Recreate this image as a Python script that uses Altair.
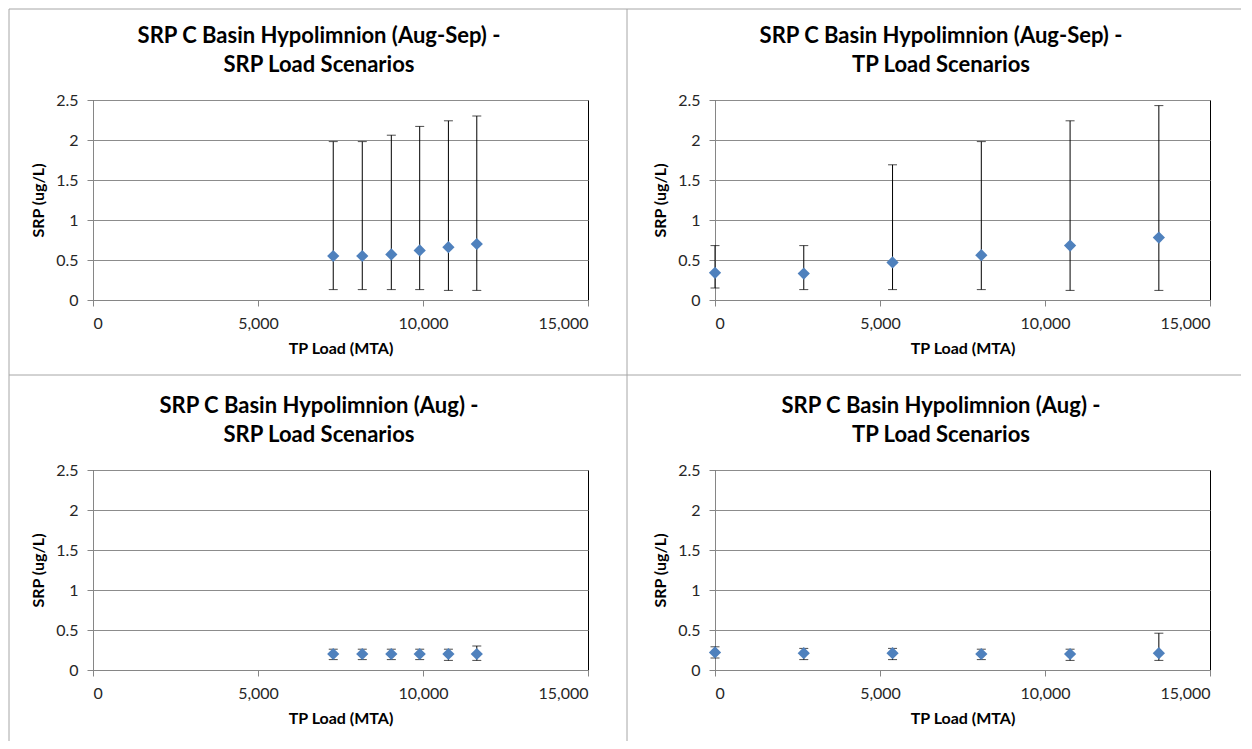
import altair as alt
import pandas as pd

# ---- data ----
srp_loads = [7280, 8160, 9040, 9900, 10770, 11630]
tp_loads = [0, 2690, 5380, 8070, 10760, 13450]

augsep_srp_mean = [0.55, 0.55, 0.57, 0.62, 0.66, 0.70]
augsep_srp_lo = [0.13, 0.13, 0.13, 0.13, 0.12, 0.12]
augsep_srp_hi = [1.98, 1.98, 2.06, 2.17, 2.24, 2.30]

augsep_tp_mean = [0.34, 0.33, 0.47, 0.56, 0.68, 0.78]
augsep_tp_lo = [0.15, 0.13, 0.13, 0.13, 0.12, 0.12]
augsep_tp_hi = [0.68, 0.68, 1.69, 1.98, 2.24, 2.43]

aug_srp_mean = [0.20, 0.20, 0.20, 0.20, 0.20, 0.20]
aug_srp_lo = [0.13, 0.13, 0.13, 0.13, 0.12, 0.12]
aug_srp_hi = [0.26, 0.26, 0.26, 0.26, 0.26, 0.30]

aug_tp_mean = [0.22, 0.21, 0.21, 0.20, 0.20, 0.21]
aug_tp_lo = [0.15, 0.13, 0.13, 0.13, 0.12, 0.12]
aug_tp_hi = [0.29, 0.27, 0.27, 0.26, 0.26, 0.46]

x_ticks = [0, 5000, 10000, 15000]
y_ticks = [0, 0.5, 1, 1.5, 2, 2.5]

titles = [
    ["SRP C Basin Hypolimnion (Aug-Sep) -", "SRP Load Scenarios"],
    ["SRP C Basin Hypolimnion (Aug-Sep) -", "TP Load Scenarios"],
    ["SRP C Basin Hypolimnion (Aug) -", "SRP Load Scenarios"],
    ["SRP C Basin Hypolimnion (Aug) -", "TP Load Scenarios"],
]

FONT = "Lato"
BLUE = "#4F81BD"
W, H = 495, 200
Y_TITLE = "SRP (ug/L)"
X_TITLE = "TP Load (MTA)"


def panel(title, xs, mean, lo, hi, borders=False):
    df = pd.DataFrame({"x": xs, "mean": mean, "lo": lo, "hi": hi})
    base = alt.Chart(df)
    xenc = alt.X(
        "x:Q",
        scale=alt.Scale(domain=[0, 15000], nice=False, zero=False),
        axis=alt.Axis(values=x_ticks, labelExpr="format(datum.value, ',')",
                      title=X_TITLE, grid=False),
        title=X_TITLE,
    )
    yscale = alt.Scale(domain=[0, 2.5], nice=False)
    yaxis = alt.Axis(values=y_ticks, labelExpr="format(datum.value, '~g')",
                     title=Y_TITLE, grid=True)
    bars = base.mark_errorbar(ticks={"size": 9}, color="black", thickness=1).encode(
        x=xenc,
        y=alt.Y("lo:Q", scale=yscale, axis=yaxis, title=Y_TITLE),
        y2="hi:Q",
    )
    pts = base.mark_point(shape="diamond", filled=True, size=150, color=BLUE, opacity=1).encode(
        x=xenc,
        y=alt.Y("mean:Q", scale=yscale, axis=yaxis, title=Y_TITLE),
    )
    one = alt.Data(values=[{}])
    layers = [bars, pts]
    for i, line in enumerate(title):
        layers.append(
            alt.Chart(one).mark_text(
                font=FONT, fontSize=22, fontWeight="bold", color="#000000",
                align="center", baseline="middle",
            ).encode(
                x=alt.value(226), y=alt.value(-64 + 29 * i), text=alt.value(line)
            )
        )
    if borders:
        col = "#A6A6A6"
        segs = [
            (-84, -84, -91, 641),
            (534, 534, -91, 641),
            (-84, 1148, -91, -91),
            (-84, 1148, 275, 275),
        ]
        for x1, x2, y1, y2 in segs:
            layers.append(
                alt.Chart(one).mark_rule(color=col, strokeWidth=1).encode(
                    x=alt.value(x1), x2=alt.value(x2), y=alt.value(y1), y2=alt.value(y2)
                )
            )
    return alt.layer(*layers).properties(width=W, height=H)


p1 = panel(titles[0], srp_loads, augsep_srp_mean, augsep_srp_lo, augsep_srp_hi, borders=True)
p2 = panel(titles[1], tp_loads, augsep_tp_mean, augsep_tp_lo, augsep_tp_hi)
p3 = panel(titles[2], srp_loads, aug_srp_mean, aug_srp_lo, aug_srp_hi)
p4 = panel(titles[3], tp_loads, aug_tp_mean, aug_tp_lo, aug_tp_hi)

chart = (
    alt.concat(p1, p2, p3, p4, columns=2)
    .properties(bounds="flush", spacing={"row": 170, "column": 127}, padding=0)
    .configure_view(stroke="black", strokeWidth=1)
    .configure_axis(
        domainColor="#868686",
        tickColor="#868686",
        gridColor="#8C8C8C",
        tickSize=6,
        labelFont=FONT,
        labelFontSize=16,
        labelColor="#262626",
        labelPadding=9,
        titleFont=FONT,
        titleFontSize=16,
        titleFontWeight="bold",
        titleColor="#000000",
        titlePadding=9,
    )
)

chart.save("out.html", embed_options={"renderer": "svg", "actions": False})
